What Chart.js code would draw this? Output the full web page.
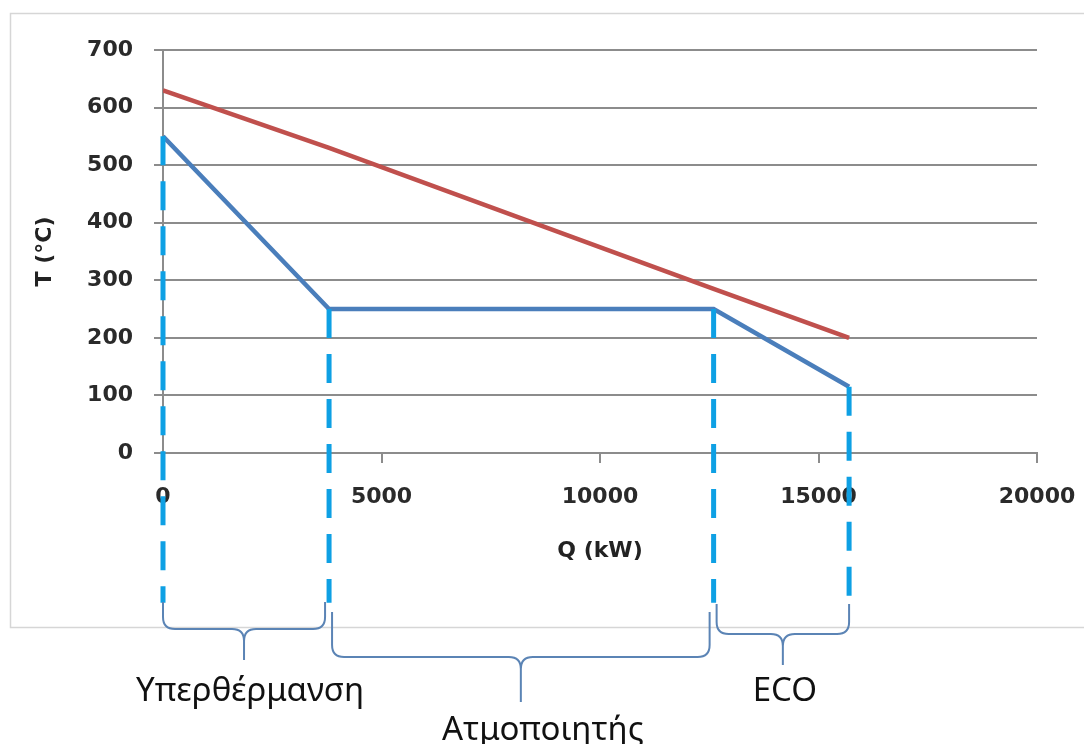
<!DOCTYPE html>
<html>
<head>
<meta charset="utf-8">
<script src="https://cdn.jsdelivr.net/npm/chart.js@4/dist/chart.umd.min.js"></script>
<style>
  html, body { margin: 0; padding: 0; background: #ffffff; }
  canvas { display: block; }
</style>
</head>
<body>
<canvas id="tq" width="1084" height="744"></canvas>
<script>
// Heat transferred Q (kW) at the section boundaries of the boiler
const qPoints = [0, 3800, 12600, 15700];
// Flue gas temperature (°C) at those boundaries
const gasTemp = [630, 530, 285, 200];
// Water / steam temperature (°C) at those boundaries
const steamTemp = [550, 250, 250, 115];
// Section names, each spanning two consecutive boundaries
const sections = ['Υπερθέρμανση', 'Ατμοποιητής', 'ECO'];
// Axis ticks
const qTicks = [0, 5000, 10000, 15000, 20000];
const tTicks = [0, 100, 200, 300, 400, 500, 600, 700];
// Temperature the dashed section markers run down to (below the axis)
const dropTo = -260;

const GAS = '#c0504d';
const STEAM = '#4a7ebb';
const MARK = '#0ea0e4';
const GRID = '#8c8c8c';
const TICK_FONT = { family: 'DejaVu Sans', size: 22, weight: 'bold' };
const TITLE_FONT = { family: 'DejaVu Sans', size: 22, weight: 'bold' };

const toXY = (xs, ys) => xs.map((x, i) => ({ x, y: ys[i] }));

const markerSets = qPoints.map((q, i) => ({
  data: [{ x: q, y: steamTemp[i] }, { x: q, y: dropTo }],
  borderColor: MARK,
  borderWidth: 5,
  borderDash: [29, 16],
  borderCapStyle: 'butt',
  pointRadius: 0,
  showLine: true,
  clip: false,
  order: 0
}));

// Layout of the braces under the chart: top of ends, bar level, tip level
const braceLevels = [
  { top: 602, bar: 629, tip: 660, label: { dx: 6, y: 701 } },
  { top: 612, bar: 657, tip: 702, label: { dx: 22, y: 740 } },
  { top: 604, bar: 634, tip: 665, label: { dx: 2, y: 701 } }
];

function drawBrace(ctx, x1, x2, yTop, yBar, yTip) {
  const xc = (x1 + x2) / 2;
  const r = 12;
  ctx.beginPath();
  ctx.moveTo(x1, yTop);
  ctx.lineTo(x1, yBar - r);
  ctx.quadraticCurveTo(x1, yBar, x1 + r, yBar);
  ctx.lineTo(xc - r, yBar);
  ctx.quadraticCurveTo(xc, yBar, xc, yBar + r);
  ctx.lineTo(xc, yTip);
  ctx.moveTo(xc, yBar + r);
  ctx.quadraticCurveTo(xc, yBar, xc + r, yBar);
  ctx.lineTo(x2 - r, yBar);
  ctx.quadraticCurveTo(x2, yBar, x2, yBar - r);
  ctx.lineTo(x2, yTop);
  ctx.stroke();
}

const framePlugin = {
  id: 'frame',
  beforeDraw(chart) {
    const ctx = chart.ctx;
    ctx.save();
    ctx.fillStyle = '#ffffff';
    ctx.fillRect(0, 0, chart.width, chart.height);
    ctx.strokeStyle = '#d6d6d6';
    ctx.lineWidth = 1.5;
    ctx.strokeRect(10.5, 13.5, chart.width + 20, 614);
    ctx.restore();
  }
};

const sectionPlugin = {
  id: 'sections',
  afterDraw(chart) {
    const ctx = chart.ctx;
    const xs = chart.scales.x;
    ctx.save();
    ctx.strokeStyle = '#5b84b5';
    ctx.lineWidth = 2;
    ctx.lineJoin = 'round';
    ctx.fillStyle = '#111111';
    ctx.font = '33px "Noto Sans"';
    ctx.textAlign = 'center';
    ctx.textBaseline = 'alphabetic';
    sections.forEach((name, i) => {
      const x1 = xs.getPixelForValue(qPoints[i]) + (i === 0 ? 0 : 3);
      const x2 = xs.getPixelForValue(qPoints[i + 1]) - (i === sections.length - 1 ? 0 : 4);
      const lv = braceLevels[i];
      drawBrace(ctx, x1, x2, lv.top, lv.bar, lv.tip);
      ctx.fillText(name, (x1 + x2) / 2 + lv.label.dx, lv.label.y);
    });
    ctx.restore();
  }
};

new Chart(document.getElementById('tq'), {
  type: 'scatter',
  data: {
    datasets: [
      {
        data: toXY(qPoints, gasTemp),
        borderColor: GAS,
        borderWidth: 4.5,
        pointRadius: 0,
        showLine: true,
        order: 2
      },
      {
        data: toXY(qPoints, steamTemp),
        borderColor: STEAM,
        borderWidth: 4.5,
        pointRadius: 0,
        showLine: true,
        order: 1
      },
      ...markerSets
    ]
  },
  options: {
    responsive: false,
    animation: false,
    events: [],
    layout: { padding: { top: 50, right: 47, bottom: 0, left: 0 } },
    plugins: {
      legend: { display: false },
      tooltip: { enabled: false }
    },
    scales: {
      x: {
        type: 'linear',
        min: qTicks[0],
        max: qTicks[qTicks.length - 1],
        afterBuildTicks: s => { s.ticks = qTicks.map(v => ({ value: v })); },
        afterFit: s => { s.height = 291; s.paddingLeft = 0; s.paddingRight = 0; },
        grid: { drawOnChartArea: false, drawTicks: true, tickLength: 10, color: GRID, lineWidth: 2 },
        border: { color: GRID, width: 2 },
        ticks: {
          font: TICK_FONT, color: '#2a2a2a', padding: 21, maxRotation: 0, autoSkip: false,
          callback: v => String(v)
        },
        title: {
          display: true,
          text: 'Q (kW)',
          font: TITLE_FONT,
          color: '#222222',
          padding: { bottom: 180 }
        }
      },
      y: {
        type: 'linear',
        min: tTicks[0],
        max: tTicks[tTicks.length - 1],
        afterBuildTicks: s => { s.ticks = tTicks.map(v => ({ value: v })); },
        afterFit: s => { s.width = 163; s.paddingTop = 0; s.paddingBottom = 0; },
        grid: { color: GRID, lineWidth: 2, tickLength: 9 },
        border: { color: GRID, width: 2 },
        ticks: { font: TICK_FONT, color: '#2a2a2a', padding: 21, callback: v => String(v) },
        title: {
          display: true,
          text: 'T (°C)',
          font: TITLE_FONT,
          color: '#222222',
          padding: { top: 32 }
        }
      }
    }
  },
  plugins: [framePlugin, sectionPlugin]
});
</script>
</body>
</html>
